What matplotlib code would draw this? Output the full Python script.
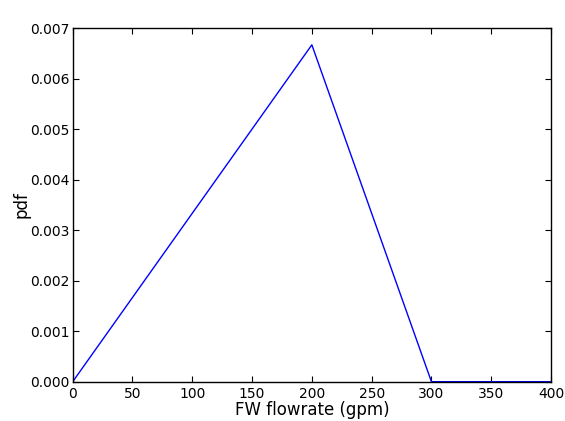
import matplotlib
matplotlib.use("Agg")
import matplotlib.pyplot as plt

# triangular pdf for FW flowrate, then zero tail
flow = [0, 200, 300, 400]
pdf = [0.0, 0.0066667, 0.0, 0.0]

fig = plt.figure(figsize=(5.65, 4.21), dpi=100)
ax = fig.add_axes([72.7 / 565, 1 - 381.7 / 421, (551 - 72.7) / 565, (381.7 - 28) / 421])
ax.plot(flow, pdf, color="#0000ff", linewidth=1.0)
ax.set_xlim(0, 400)
ax.set_ylim(0, 0.007)
ax.set_xticks(range(0, 401, 50))
ax.set_yticks([i * 0.001 for i in range(8)])
ax.set_yticklabels(["%.3f" % (i * 0.001) for i in range(8)])
ax.tick_params(direction="in", top=True, right=True, length=4, width=0.8,
               labelsize=10)
ax.tick_params(axis="x", pad=4)
ax.tick_params(axis="y", pad=2)
for s in ax.spines.values():
    s.set_linewidth(1.0)
ax.set_xlabel("FW flowrate (gpm)", fontsize=12, labelpad=0)
ax.set_ylabel("pdf", fontsize=12, labelpad=0)

fig.savefig("out.png", dpi=100)
